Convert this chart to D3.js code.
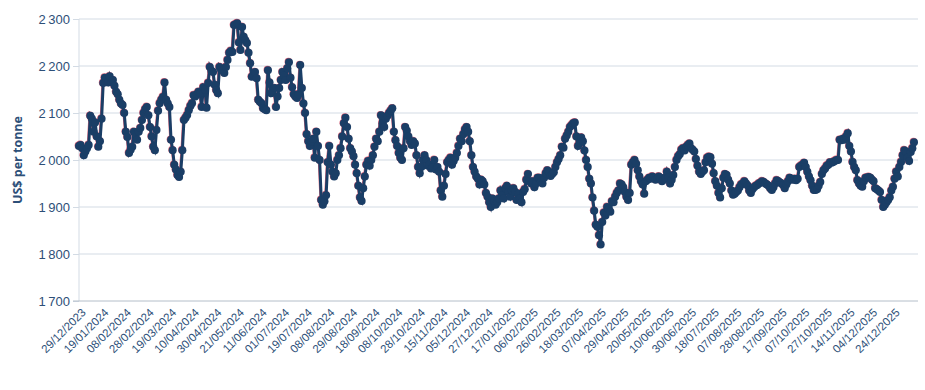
<!DOCTYPE html>
<html>
<head>
<meta charset="utf-8">
<script src="https://cdn.jsdelivr.net/npm/d3@7"></script>
<style>
  body { margin: 0; background: #fff; }
  #container { width: 925px; height: 390px; }
</style>
</head>
<body>
<div id="container"></div>
<script>
// Prix journalier (US$ par tonne), une valeur par jour de cotation
const prices = [
  2030, 2032, 2025, 2010, 2018, 2025, 2032, 2094, 2088, 2060, 2080, 2050, 2028, 2040, 2088, 2164, 2175, 2172, 2165, 2178,
  2166, 2170, 2158, 2145, 2140, 2128, 2120, 2117, 2100, 2060, 2049, 2015, 2022, 2028, 2060, 2055, 2043, 2060, 2068, 2085,
  2100, 2108, 2113, 2095, 2070, 2050, 2028, 2021, 2064, 2105, 2121, 2128, 2134, 2165, 2128, 2120, 2113, 2043, 2021, 1990,
  1980, 1968, 1964, 1975, 2021, 2085, 2090, 2096, 2106, 2115, 2121, 2138, 2135, 2140, 2145, 2142, 2113, 2155, 2150, 2111,
  2164, 2198, 2190, 2187, 2160, 2149, 2142, 2198, 2192, 2191, 2185, 2198, 2213, 2228, 2232, 2230, 2287, 2289, 2291, 2250,
  2234, 2283, 2262, 2255, 2249, 2228, 2206, 2177, 2180, 2187, 2174, 2128, 2124, 2121, 2110, 2108, 2106, 2191, 2165, 2142,
  2148, 2153, 2113, 2135, 2153, 2170, 2187, 2180, 2170, 2195, 2208, 2175, 2155, 2140, 2135, 2132, 2140, 2202, 2153, 2120,
  2100, 2055, 2040, 2030, 2040, 2045, 2005, 2060, 2030, 2000, 1915, 1905, 1912, 1925, 1995, 2030, 1990, 1975, 1965, 1972,
  2000, 2010, 2025, 2050, 2078, 2090, 2070, 2045, 2025, 2018, 2008, 1990, 1972, 1945, 1920, 1913, 1940, 1965, 1990, 1998,
  1988, 2000, 2010, 2028, 2045, 2040, 2060, 2095, 2078, 2070, 2088, 2094, 2100, 2105, 2110, 2060, 2042, 2030, 2015, 2005,
  2000, 2025, 2070, 2062, 2050, 2040, 2032, 2040, 2035, 2010, 1985, 1972, 1985, 2000, 2010, 2000, 1988, 1990, 1982, 1985,
  2000, 1980, 1985, 1975, 1935, 1922, 1945, 1970, 1995, 2000, 2005, 1990, 1998, 2005, 2015, 2030, 2045, 2040, 2055, 2065,
  2070, 2060, 2040, 2010, 1985, 1975, 1965, 1960, 1948, 1958, 1955, 1948, 1930, 1922, 1910, 1900, 1918, 1912, 1905, 1910,
  1918, 1935, 1925, 1918, 1940, 1945, 1932, 1922, 1935, 1940, 1932, 1915, 1928, 1918, 1910, 1932, 1938, 1958, 1970, 1955,
  1950, 1955, 1942, 1950, 1962, 1962, 1955, 1950, 1962, 1972, 1978, 1975, 1966, 1970, 1974, 1985, 1995, 2002, 2010, 2028,
  2026, 2045, 2052, 2060, 2070, 2074, 2078, 2080, 2050, 2030, 2038, 2048, 2040, 2020, 2000, 1985, 1960, 1950, 1920, 1892,
  1862, 1858, 1840, 1820, 1868, 1888, 1882, 1900, 1895, 1890, 1912, 1910, 1922, 1930, 1935, 1950, 1948, 1942, 1932, 1922,
  1915, 1930, 1990, 1995, 2000, 1992, 1978, 1965, 1955, 1948, 1928, 1955, 1958, 1962, 1960, 1965, 1962, 1958, 1960, 1965,
  1962, 1955, 1958, 1962, 1975, 1962, 1950, 1958, 1968, 1985, 2000, 2008, 2012, 2022, 2025, 2020, 2028, 2032, 2035, 2025,
  2022, 2018, 2002, 1988, 1975, 1970, 1975, 1978, 1995, 2005, 2007, 2006, 1992, 1972, 1955, 1945, 1930, 1920, 1940, 1962,
  1970, 1968, 1958, 1950, 1935, 1926, 1928, 1932, 1935, 1942, 1948, 1950, 1955, 1950, 1946, 1935, 1930, 1938, 1942, 1945,
  1947, 1950, 1952, 1955, 1953, 1950, 1948, 1945, 1940, 1936, 1942, 1950, 1957, 1955, 1952, 1950, 1947, 1940, 1948, 1955,
  1962, 1960, 1958, 1960, 1957, 1960, 1985, 1988, 1990, 1994, 1985, 1975, 1965, 1957, 1945, 1936, 1936, 1938, 1945, 1953,
  1970, 1978, 1982, 1988, 1990, 1995, 1994, 1996, 1998, 2000, 2000, 2043, 2042, 2045, 2043, 2050, 2057, 2030, 2018, 1996,
  1985, 1978, 1957, 1950, 1945, 1943, 1955, 1962, 1963, 1964, 1962, 1958, 1955, 1940, 1938, 1935, 1932, 1915, 1900, 1905,
  1910, 1915, 1921, 1935, 1943, 1960, 1975, 1965, 1985, 1996, 2010, 2021, 2018, 2005, 1998, 2017, 2025, 2038
];

// Libellés de l'axe X (un tous les 14 jours de cotation)
const tickLabels = [
  "29/12/2023", "19/01/2024", "08/02/2024", "28/02/2024", "19/03/2024", "10/04/2024", "30/04/2024",
  "21/05/2024", "11/06/2024", "01/07/2024", "19/07/2024", "08/08/2024", "29/08/2024", "18/09/2024",
  "08/10/2024", "28/10/2024", "15/11/2024", "05/12/2024", "27/12/2024", "17/01/2025", "06/02/2025",
  "26/02/2025", "18/03/2025", "07/04/2025", "29/04/2025", "20/05/2025", "10/06/2025", "30/06/2025",
  "18/07/2025", "07/08/2025", "28/08/2025", "17/09/2025", "07/10/2025", "27/10/2025", "14/11/2025",
  "04/12/2025", "24/12/2025"
];
const tickStep = 14;

const yTicks = [1700, 1800, 1900, 2000, 2100, 2200, 2300];

const main = (container) => {
  const margin = { top: 19, right: 11, bottom: 89, left: 79 };
  const width = 925 - margin.left - margin.right;
  const height = 390 - margin.top - margin.bottom;

  const navy = "#1a3e66";
  const textColor = "#2d4f78";

  const svg = d3.select(container)
    .append("svg")
    .attr("width", 925)
    .attr("height", 390)
    .style("font-family", "'Open Sans', sans-serif");

  const g = svg.append("g")
    .attr("transform", `translate(${margin.left},${margin.top})`);

  // Échelles
  const x = d3.scaleLinear()
    .domain([0, prices.length - 1])
    .range([0, width]);

  const y = d3.scaleLinear()
    .domain([1700, 2300])
    .range([height, 0]);

  // Grille horizontale
  g.append("g")
    .selectAll("line")
    .data(yTicks.filter(d => d > 1700))
    .enter()
    .append("line")
    .attr("x1", 0)
    .attr("x2", width + 4)
    .attr("y1", d => y(d))
    .attr("y2", d => y(d))
    .attr("stroke", "#d3dbe4")
    .attr("stroke-width", 1);

  // Axe Y
  const fmt = d => d3.format(",")(d).replace(",", "\u2009");
  const yAxis = g.append("g")
    .call(d3.axisLeft(y).tickValues(yTicks).tickSize(6).tickFormat(fmt));
  yAxis.select(".domain").attr("stroke", "#d3dbe4").attr("d", `M0,0V${height}`);
  yAxis.selectAll(".tick line").attr("stroke", "#d3dbe4");
  yAxis.selectAll(".tick text")
    .attr("fill", textColor)
    .attr("x", -9)
    .style("font-size", "13px");

  // Axe X
  const xAxis = g.append("g")
    .attr("transform", `translate(0,${height})`)
    .call(d3.axisBottom(x)
      .tickValues(tickLabels.map((d, i) => i * tickStep))
      .tickSize(0)
      .tickFormat((d, i) => tickLabels[i]));
  xAxis.select(".domain").attr("stroke", "#b4bec9").attr("d", `M-6,0H${width + 4}`);
  xAxis.selectAll(".tick text")
    .attr("fill", textColor)
    .style("font-size", "11.5px")
    .attr("text-anchor", "end")
    .attr("dx", 0)
    .attr("dy", 0)
    .attr("transform", "translate(5,10) rotate(-45)");

  // Titre de l'axe Y
  svg.append("text")
    .attr("transform", `translate(22, ${margin.top + height / 2}) rotate(-90)`)
    .attr("text-anchor", "middle")
    .attr("fill", textColor)
    .style("font-size", "12.5px")
    .style("font-weight", "bold")
    .text("US$ per tonne");

  const line = d3.line()
    .x((d, i) => x(i))
    .y(d => y(d));

  // Liseré rouge (série en arrière-plan)
  const back = g.append("g")
    .attr("transform", "translate(-0.5,-0.5)")
    .attr("opacity", 0.75);
  back.append("path")
    .datum(prices)
    .attr("d", line)
    .attr("fill", "none")
    .attr("stroke", "#d8344f")
    .attr("stroke-width", 2.8);
  back.selectAll("circle")
    .data(prices)
    .enter()
    .append("circle")
    .attr("cx", (d, i) => x(i))
    .attr("cy", d => y(d))
    .attr("r", 3.9)
    .attr("fill", "#d8344f");

  // Série principale
  g.append("path")
    .datum(prices)
    .attr("d", line)
    .attr("fill", "none")
    .attr("stroke", navy)
    .attr("stroke-width", 3)
    .attr("stroke-linejoin", "miter");

  g.append("g")
    .selectAll("circle")
    .data(prices)
    .enter()
    .append("circle")
    .attr("cx", (d, i) => x(i))
    .attr("cy", d => y(d))
    .attr("r", 4)
    .attr("fill", navy);
};

main(document.getElementById("container"));
</script>
</body>
</html>
